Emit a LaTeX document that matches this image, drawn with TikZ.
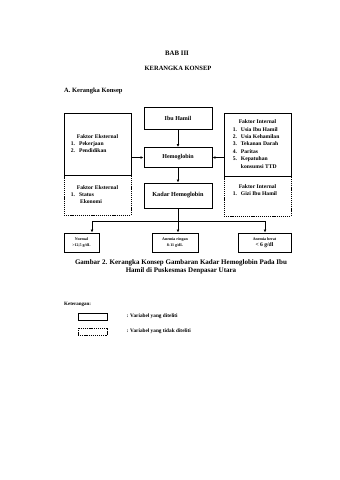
\documentclass[tikz,border=0pt]{standalone}
\usepackage{fontspec}
\setmainfont{Liberation Serif}
\usetikzlibrary{arrows.meta,positioning}
\newcommand\hfont[2][7.4]{\fontsize{#2}{#1}\selectfont\bfseries}
\tikzset{
  varbox/.style={draw, line width=0.9pt, inner sep=0pt, align=center},
  varboxx/.style={varbox, dash pattern=on 1.2pt off 0.9pt},
  link/.style={line width=0.8pt},
  arr/.style={link, -{Latex[length=3pt,width=2.8pt]}}
}

\begin{document}
\begin{tikzpicture}[x=1pt,y=-1pt]
    \useasboundingbox (0,0) rectangle (340,480);

    % heading
    \node[font=\hfont{6.8}] (bab) at (177,53) {BAB III};
    \node[font=\hfont{6.5}] (judul) at (178,68) {KERANGKA KONSEP};
    \node[font=\hfont{6.5}, anchor=west, inner sep=0pt] (subjudul) at (64,91) {A. Kerangka Konsep};

    % main chain
    \node[varbox, minimum width=68, minimum height=22, font=\hfont{6}] (ibuhamil) at (178,118) {Ibu Hamil};
    \node[varbox, minimum width=68, minimum height=20, font=\hfont{6}] (hemoglobin) at (178,157.5) {Hemoglobin};
    \node[varbox, minimum width=68, minimum height=25, font=\hfont{6.2}] (kadarhb) at (178,195.5) {Kadar Hemoglobin};

    % faktor eksternal
    \node[varbox, minimum width=67, minimum height=62, font=\hfont{5.6}] (eksternal) at (97.5,144)
        {\begin{tabular}{@{}l@{\hspace{4pt}}l@{}}\multicolumn{2}{c}{Faktor Eksternal}\\ 1.&Pekerjaan\\ 2.&Pendidikan\end{tabular}};
    \node[varboxx, minimum width=67, minimum height=40, font=\hfont{5.6}] (eksternalx) at (97.5,195)
        {\begin{tabular}{@{}l@{\hspace{4pt}}l@{}}\multicolumn{2}{c}{Faktor Eksternal}\\ 1.&Status\\ &\,Ekonomi\end{tabular}};

    % faktor internal
    \node[varbox, minimum width=67, minimum height=63, font=\hfont{5.6}] (internal) at (257.5,144.5)
        {\begin{tabular}{@{}l@{\hspace{4pt}}l@{}}\multicolumn{2}{c}{Faktor Internal}\\ 1.&Usia Ibu Hamil\\ 2.&Usia Kehamilan\\
         3.&Tekanan Darah\\ 4.&Paritas\\ 5.&Kepatuhan\\ &konsumsi TTD\end{tabular}};
    \node[varboxx, minimum width=67, minimum height=40, font=\hfont{5.6}] (internalx) at (257.5,196)
        {\begin{tabular}{@{}l@{\hspace{4pt}}l@{}}\multicolumn{2}{c}{Faktor Internal}\\ 1.&Gizi Ibu Hamil\\[11pt]\end{tabular}};

    % kategori
    \node[varbox, minimum width=35, minimum height=19, font={\hfont[6.5]{4}}] (normal) at (81.5,242.5) {Normal\\>12,5 g/dL};
    \node[varbox, minimum width=46, minimum height=19, font={\hfont[6.5]{4}}] (ringan) at (175,242.5) {Anemia ringan\\8-11 g/dL};
    \node[varbox, minimum width=53, minimum height=19, font={\hfont[6.5]{4}}] (berat) at (264.5,242.5) {Anemia berat\\{\hfont[6.5]{5.6}< 6 g/dl}};

    % connectors
    \draw[arr] (ibuhamil) -- (hemoglobin);
    \draw[arr] (hemoglobin) -- (kadarhb);
    \draw[arr] (eksternal.east |- hemoglobin.west) -- (hemoglobin.west);
    \draw[arr] (internal.west |- hemoglobin.east) -- (hemoglobin.east);

    \coordinate (busL) at (92,221);
    \coordinate (busR) at (265,221);
    \coordinate (bus) at (kadarhb.south |- busL);
    \draw[link] (kadarhb.south) -- (bus);
    \draw[link] (busL) -- (busR);
    \draw[arr] (busL) -- (busL |- normal.north);
    \draw[arr] (bus) -- (bus |- ringan.north);
    \draw[arr] (busR) -- (busR |- berat.north);

    % caption
    \node[font={\hfont[8]{7}}, align=center] (caption) at (181,267)
        {Gambar 2. Kerangka Konsep Gambaran Kadar Hemoglobin Pada Ibu\\Hamil di Puskesmas Denpasar Utara};

    % legend
    \node[font=\hfont{5}, anchor=west, inner sep=0pt] (keterangan) at (64,304) {Keterangan:};
    \node[varbox, minimum width=29, minimum height=7] (legsolid) at (92.5,316.5) {};
    \node[varboxx, minimum width=29, minimum height=7] (legdashed) at (92.5,331.5) {};
    \node[font=\hfont{5.3}, anchor=west, inner sep=0pt, right=19pt of legsolid] (ketsolid) {: Variabel yang diteliti};
    \node[font=\hfont{5.3}, anchor=west, inner sep=0pt, right=19pt of legdashed] (ketdashed) {: Variabel yang tidak diteliti};
\end{tikzpicture}
\end{document}
